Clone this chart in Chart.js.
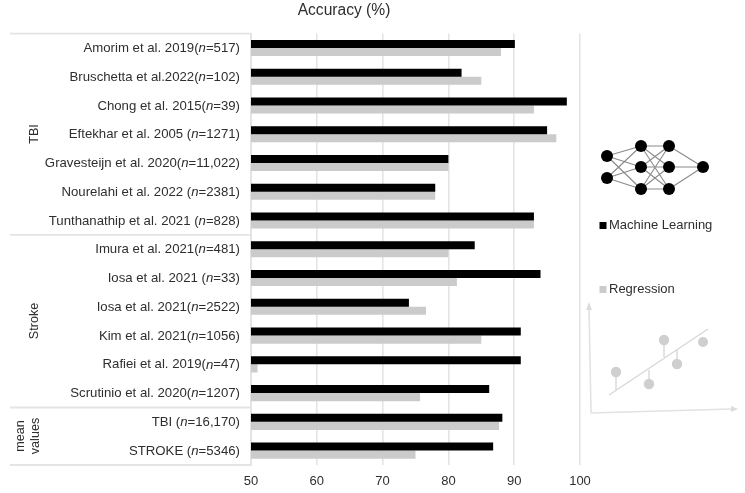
<!DOCTYPE html>
<html><head><meta charset="utf-8">
<style>html,body{margin:0;padding:0;background:#fff}#w{position:relative;width:745px;height:493px;overflow:hidden;filter:blur(0.35px)}canvas{position:absolute;left:0;top:0}svg{position:absolute;left:0;top:0}</style>
<script src="https://cdn.jsdelivr.net/npm/chart.js@4"></script></head><body>
<div id="w"><canvas id="c" width="745" height="493"></canvas>
<svg width="745" height="493" viewBox="0 0 745 493">
<g stroke="#8a8a8a" stroke-width="1.1">
<path d="M607 156L641 146M607 156L641 167M607 156L641 189M607 178L641 146M607 178L641 167M607 178L641 189"/>
<path d="M641 146L669 146M641 146L669 167M641 146L669 189M641 167L669 146M641 167L669 167M641 167L669 189M641 189L669 146M641 189L669 167M641 189L669 189"/>
<path d="M669 146L703 167M669 167L703 167M669 189L703 167"/>
</g>
<g fill="#000"><circle cx="607" cy="156" r="6"/><circle cx="607" cy="178" r="6"/><circle cx="641" cy="146" r="6"/><circle cx="641" cy="167" r="6"/><circle cx="641" cy="189" r="6"/><circle cx="669" cy="146" r="6"/><circle cx="669" cy="167" r="6"/><circle cx="669" cy="189" r="6"/><circle cx="703" cy="167" r="6"/></g>
<g stroke="#e2e2e2" stroke-width="1.6" fill="none"><path d="M591 413L589 306M591 413L732 409"/></g>
<g fill="#dcdcdc"><path d="M589 302L586 310L592 310ZM738 409L731 406L731 412Z"/></g>
<g stroke="#d8d8d8" stroke-width="1.4" fill="none"><path d="M609 395L708 329M616 372L616 390M649 384L649 370M664 340L664 357M677 364L677 350"/></g>
<g fill="#cfcfcf"><circle cx="616" cy="372" r="5.2"/><circle cx="649" cy="384" r="5.2"/><circle cx="664" cy="340" r="5.2"/><circle cx="677" cy="364" r="5.2"/><circle cx="703" cy="342" r="5"/></g>
</svg></div>
<script>
const studies = ["Amorim et al. 2019","Bruschetta et al.2022","Chong et al. 2015","Eftekhar et al. 2005 ","Gravesteijn et al. 2020","Nourelahi et al. 2022 ","Tunthanathip et al. 2021 ","Imura et al. 2021","Iosa et al. 2021 ","Iosa et al. 2021","Kim et al. 2021","Rafiei et al. 2019","Scrutinio et al. 2020","TBI ","STROKE "];
const sizes = ["517","102","39","1271","11,022","2381","828","481","33","2522","1056","47","1207","16,170","5346"];
const machineLearning = [90.1,82,98,95,80,78,93,84,94,74,91,91,86.2,88.2,86.8];
const regression = [88,85,93,96.4,80,78,93,80,81.3,76.6,85,51,75.7,87.7,75];
const xTicks = [50,60,70,80,90,100];
const groupEnds = [6,12,14];
const font = '"Liberation Sans", Arial, sans-serif';
const ink = '#2e2e2e';
const labels = studies.map((s,i)=>s+"(n="+sizes[i]+")");

const deco = {
  id:'deco',
  afterDraw(chart){
    const {ctx,scales:{x,y},chartArea:a} = chart;
    const ls = 10;
    ctx.save();
    ctx.strokeStyle='#e4e4e4'; ctx.lineWidth=1.8;
    const edge = i => y.getPixelForValue(i)+ (y.getPixelForValue(1)-y.getPixelForValue(0))/2;
    const lines=[y.getPixelForValue(0)-(y.getPixelForValue(1)-y.getPixelForValue(0))/2].concat(groupEnds.map(edge));
    lines.forEach(p=>{ctx.beginPath();ctx.moveTo(ls,p);ctx.lineTo(a.left,p);ctx.stroke();});
    ctx.fillStyle=ink; ctx.textBaseline='middle';
    const upright='13.2px '+font, ital='italic 13.2px '+font;
    studies.forEach((s,i)=>{
      const p=y.getPixelForValue(i)+0.5;
      const tail='='+sizes[i]+')', head=s+'(';
      ctx.font=upright; const wT=ctx.measureText(tail).width;
      ctx.font=ital; const wN=ctx.measureText('n').width;
      let cx=240;
      ctx.textAlign='right';
      ctx.font=upright; ctx.fillText(tail,cx,p); cx-=wT;
      ctx.font=ital; ctx.fillText('n',cx,p); cx-=wN;
      ctx.font=upright; ctx.fillText(head,cx,p);
    });
    ctx.font='15.6px '+font; ctx.textAlign='center'; ctx.fillStyle=ink;
    ctx.fillText('Accuracy (%)',344,11);
    const rot=(t,px,py)=>{ctx.save();ctx.translate(px,py);ctx.rotate(-Math.PI/2);ctx.textAlign='center';ctx.fillText(t,0,0);ctx.restore();};
    ctx.font='12.6px '+font;
    rot('TBI',34.5,134); rot('Stroke',34.5,321); rot('mean',20.5,436); rot('values',36,436);
    ctx.textAlign='left'; ctx.font='13px '+font;
    ctx.fillStyle='#000'; ctx.fillRect(599.5,222,7,7);
    ctx.fillStyle=ink; ctx.fillText('Machine Learning',609,225.5);
    ctx.fillStyle='#cbcbcb'; ctx.fillRect(599.5,286,7,7);
    ctx.fillStyle=ink; ctx.fillText('Regression',609,289.5);
    ctx.restore();
  }
};
new Chart(document.getElementById('c'),{
  type:'bar',
  data:{labels,datasets:[
    {label:'Machine Learning',data:machineLearning,backgroundColor:'#000'},
    {label:'Regression',data:regression,backgroundColor:'#cbcbcb'}]},
  options:{
    indexAxis:'y',responsive:false,animation:false,
    layout:{padding:{left:251,right:165,top:33.6,bottom:0}},
    datasets:{bar:{categoryPercentage:0.56,barPercentage:1}},
    plugins:{legend:{display:false},title:{display:false},tooltip:{enabled:false}},
    scales:{
      x:{min:50,max:100,position:'bottom',afterFit(s){s.height=28;},
        afterBuildTicks(s){s.ticks=xTicks.map(v=>({value:v}));},
        grid:{color:'#e4e4e4',lineWidth:1.6,drawTicks:false},border:{display:false},
        ticks:{padding:9,color:ink,font:{family:font,size:13},maxRotation:0}},
      y:{afterFit(s){s.width=0;},grid:{display:false},border:{display:true,color:'#e4e4e4',width:1},ticks:{display:false}}
    }
  },
  plugins:[deco]
});
</script></body></html>
